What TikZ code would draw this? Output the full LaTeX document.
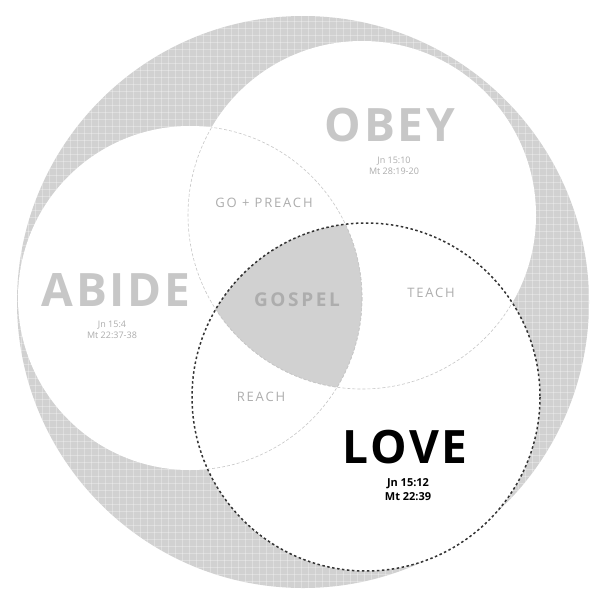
\documentclass[tikz,border=0pt]{standalone}
\usepackage{fontspec}
\setmainfont{Open Sans}
\newfontfamily\widefont[LetterSpace=6]{Open Sans}
\newfontfamily\widerfont[LetterSpace=14]{Open Sans}
\begin{document}
\begin{tikzpicture}[x=1pt,y=-1pt,
  bigword/.style={font=\widefont\fontsize{46}{46}\selectfont\bfseries,text=black!22,inner sep=0pt},
  refs/.style={font=\fontsize{9}{11}\selectfont,text=black!32,align=center,inner sep=0pt},
  zone/.style={font=\widerfont\fontsize{13}{13}\selectfont,text=black!32,inner sep=0pt},
  edge/.style={black!22,densely dashed,line width=0.6pt}]
\useasboundingbox (0,0) rectangle (601,589);
% background disc with its grid texture
\fill[black!18] (303,302) circle (286);
\begin{scope}
\clip (303,302) circle (286);
\foreach \i in {0,7,...,602}{
  \draw[white,opacity=0.3,line width=0.6pt] (\i,0) -- (\i,589);
  \draw[white,opacity=0.3,line width=0.6pt] (0,\i) -- (601,\i);
}
\end{scope}
% the three circles
\fill[white] (190,298) circle (172);
\fill[white] (362,215) circle (174);
\fill[white] (366,397) circle (174);
\begin{scope}
\clip (190,298) circle (172);
\clip (362,215) circle (174);
\fill[black!18] (366,397) circle (174);
\end{scope}
% inner edges
\begin{scope}
\clip (362,215) circle (174);
\draw[edge] (190,298) circle (172);
\end{scope}
\begin{scope}
\clip (366,397) circle (174);
\draw[edge] (190,298) circle (172);
\draw[edge] (362,215) circle (174);
\end{scope}
\begin{scope}
\clip (190,298) circle (172);
\draw[edge] (362,215) circle (174);
\end{scope}
\draw[black!80,dash pattern=on 2.5pt off 2.5pt,line width=1.5pt] (366,397) circle (174);
% words
\node[bigword] (obey) at (390,125) {OBEY};
\node[refs] (obeyrefs) at (394,166) {Jn 15:10\\Mt 28:19-20};
\node[bigword] (abide) at (116,290) {ABIDE};
\node[refs] (abiderefs) at (112,330) {Jn 15:4\\Mt 22:37-38};
\node[bigword,text=black] (love) at (405,447) {LOVE};
\node[refs,text=black,font=\fontsize{11}{14}\selectfont\bfseries] (loverefs) at (408,490) {Jn 15:12\\Mt 22:39};
\node[zone] (gopreach) at (264,203) {GO + PREACH};
\node[zone] (teach) at (431,293) {TEACH};
\node[zone] (reach) at (261,397) {REACH};
\node[zone,text=black!32,font=\widerfont\fontsize{19}{19}\selectfont\bfseries] (gospel) at (297,300) {GOSPEL};
\end{tikzpicture}
\end{document}
